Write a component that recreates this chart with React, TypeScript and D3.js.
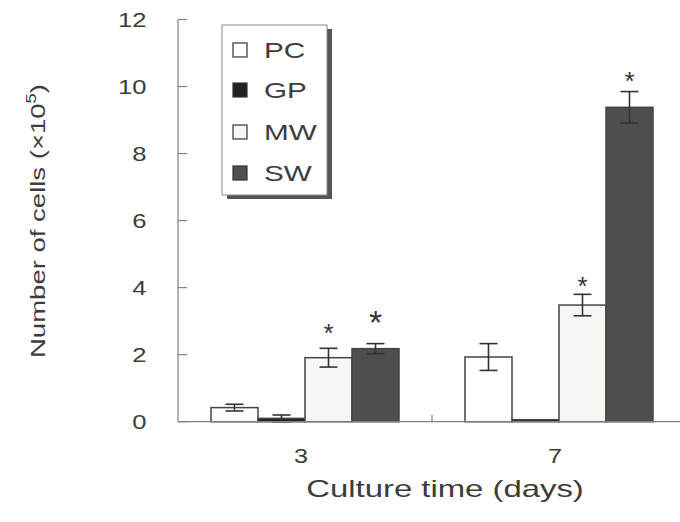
import React from "react";
import * as d3 from "d3";

const categories = ["3", "7"];
const seriesNames = ["PC", "GP", "MW", "SW"];
const pcValues = [0.42, 1.93];
const gpValues = [0.1, 0.06];
const mwValues = [1.91, 3.48];
const swValues = [2.18, 9.38];
const pcErr = [0.1, 0.4];
const gpErr = [0.1, 0.0];
const mwErr = [0.28, 0.32];
const swErr = [0.15, 0.47];
const yTicks = [0, 2, 4, 6, 8, 10, 12];
// significance markers
const stars = [
  { cat: "3", series: "MW", size: 26, gap: 21 },
  { cat: "3", series: "SW", size: 34, gap: 29 },
  { cat: "7", series: "MW", size: 26, gap: 14 },
  { cat: "7", series: "SW", size: 26, gap: 17 },
];

const FONT = "'Liberation Sans', Arial, sans-serif";
const fills: Record<string, string> = { PC: "#ffffff", GP: "#222222", MW: "#f6f7f3", SW: "#4e4e4e" };

function SText(props: { x: number; y: number; sx: number; size: number; anchor?: string; children: React.ReactNode; fill?: string }) {
  return (
    <text
      transform={`translate(${props.x},${props.y}) scale(${props.sx},1)`}
      textAnchor={props.anchor || "start"}
      fontFamily={FONT}
      fontSize={props.size}
      fill={props.fill || "#3c3c3c"}
    >
      {props.children}
    </text>
  );
}

export default function App() {
  const W = 680, H = 522;
  const x0 = d3.scaleBand<string>().domain(categories).range([178, 686]).paddingInner(0).paddingOuter(0);
  const x1 = d3.scaleBand<string>().domain(seriesNames).range([0, x0.bandwidth()]).paddingInner(0).paddingOuter(0.702);
  const y = d3.scaleLinear().domain([0, 12]).range([421.7, 19.5]);

  const table = seriesNames.map((s) => {
    const vals = s === "PC" ? pcValues : s === "GP" ? gpValues : s === "MW" ? mwValues : swValues;
    const errs = s === "PC" ? pcErr : s === "GP" ? gpErr : s === "MW" ? mwErr : swErr;
    return { s, vals, errs };
  });

  const axisColor = "#808080";
  const barStroke = "#444";

  return (
    <svg width={W} height={H} style={{ position: "absolute", left: 0, top: 0, background: "#fff" }}>
      {/* y axis */}
      <line x1={178} x2={178} y1={y(12)} y2={y(0)} stroke={axisColor} strokeWidth={1.2} />
      {yTicks.map((t) => (
        <g key={t}>
          <line x1={178} x2={187} y1={y(t)} y2={y(t)} stroke={axisColor} strokeWidth={1.2} />
          <SText x={146.5} y={y(t) + 7.5} sx={1.25} size={20.5} anchor="end">
            {t}
          </SText>
        </g>
      ))}
      {/* bars */}
      {categories.map((c, ci) => (
        <g key={c} transform={`translate(${x0(c)},0)`}>
          {table.map(({ s, vals, errs }) => {
            const bx = x1(s)!;
            const bw = x1.bandwidth();
            const v = vals[ci];
            const e = errs[ci];
            const cx = bx + bw / 2;
            return (
              <g key={s}>
                <rect x={bx} y={y(v)} width={bw} height={y(0) - y(v)} fill={fills[s]} stroke={barStroke} strokeWidth={1.5} />
                {e > 0 && (
                  <g stroke="#333" strokeWidth={1.6}>
                    <line x1={cx} x2={cx} y1={y(v + e)} y2={y(Math.max(0, v - e))} />
                    <line x1={cx - 9} x2={cx + 9} y1={y(v + e)} y2={y(v + e)} />
                    <line x1={cx - 9} x2={cx + 9} y1={y(Math.max(0, v - e))} y2={y(Math.max(0, v - e))} />
                  </g>
                )}
              </g>
            );
          })}
        </g>
      ))}
      {/* stars */}
      {stars.map((st, i) => {
        const ci = categories.indexOf(st.cat);
        const row = table.find((r) => r.s === st.series)!;
        const top = row.vals[ci] + row.errs[ci];
        const cx = x0(st.cat)! + x1(st.series)! + x1.bandwidth() / 2;
        const cy = y(top) - st.gap;
        return (
          <text key={i} x={cx} y={cy + st.size * 0.58} textAnchor="middle" fontFamily={FONT} fontSize={st.size} fill="#333">
            *
          </text>
        );
      })}
      {/* x axis */}
      <line x1={178} x2={680} y1={y(0)} y2={y(0)} stroke={axisColor} strokeWidth={1.2} />
      <line x1={x0("7")!} x2={x0("7")!} y1={y(0)} y2={y(0) - 7} stroke={axisColor} strokeWidth={1.2} />
      {categories.map((c) => (
        <SText key={c} x={x0(c)! + x0.bandwidth() / 2 - 4} y={463} sx={1.2} size={21} anchor="middle">
          {c}
        </SText>
      ))}
      <SText x={445} y={497} sx={1.37} size={24} anchor="middle">
        Culture time (days)
      </SText>
      {/* y label */}
      <text
        transform={`translate(45,${221}) rotate(-90)`}
        textAnchor="middle"
        fontFamily={FONT}
        fontSize={21}
        fill="#3c3c3c"
        textLength={274}
        lengthAdjust="spacingAndGlyphs"
      >
        Number of cells (×10<tspan dy={-9} fontSize={14}>5</tspan><tspan dy={9}>)</tspan>
      </text>
      {/* legend */}
      <rect x={227} y={29} width={105} height={170} fill="#555" />
      <rect x={222} y={25} width={105} height={170} fill="#fff" stroke="#888" strokeWidth={1} />
      {seriesNames.map((s, i) => {
        const cy = [50, 90, 132, 173][i];
        return (
          <g key={s}>
            <rect x={233} y={cy - 7} width={14} height={14} fill={fills[s]} stroke="#333" strokeWidth={1.2} />
            <SText x={264} y={cy + 8} sx={1.35} size={22}>
              {s}
            </SText>
          </g>
        );
      })}
    </svg>
  );
}
